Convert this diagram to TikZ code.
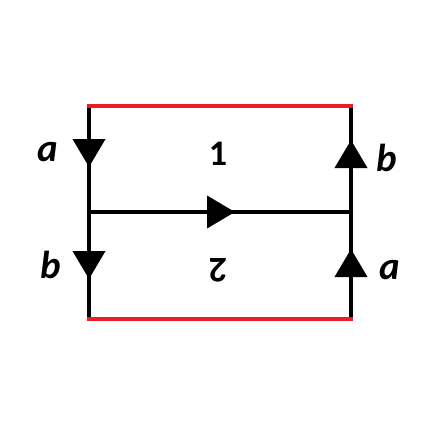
\documentclass[tikz,border=0pt]{standalone}
\usepackage{fontspec}
\setmainfont{Carlito}
\usetikzlibrary{arrows.meta,decorations.markings}
\definecolor{edgered}{HTML}{ED1C24}
\tikzset{
  edge/.style={line width=4pt,draw=black},
  rededge/.style={line width=4pt,draw=edgered,line cap=rect},
  midarrow/.style={postaction={decorate,decoration={markings,
    mark=at position #1 with {\arrow{Triangle[length=28pt,width=32pt]}}}}},
  letterlabel/.style={font=\fontsize{39}{39}\selectfont\bfseries\itshape,inner sep=0pt},
  facelabel/.style={font=\fontsize{36}{36}\selectfont\bfseries,inner sep=0pt}
}
\begin{document}
\begin{tikzpicture}[x=1pt,y=-1pt]
  \useasboundingbox (0,0) rectangle (426,426);
  % corners of the square
  \coordinate (tl) at (89,106);
  \coordinate (tr) at (351,106);
  \coordinate (ml) at (89,212);
  \coordinate (mr) at (351,212);
  \coordinate (bl) at (89,319);
  \coordinate (br) at (351,319);
  % glued edges
  \draw[edge,midarrow=61pt] (tl) -- (ml);
  \draw[edge,midarrow=67pt] (ml) -- (bl);
  \draw[edge,midarrow=72pt] (mr) -- (tr);
  \draw[edge,midarrow=70pt] (br) -- (mr);
  \draw[edge,midarrow=146pt] (ml) -- (mr);
  \draw[rededge] (tl) -- (tr);
  \draw[rededge] (bl) -- (br);
  % labels
  \node[letterlabel] (la1) at (48,152) {a};
  \node[letterlabel] (lb1) at (51,265) {b};
  \node[letterlabel] (rb1) at (387,158) {b};
  \node[letterlabel] (ra1) at (390,270) {a};
  \node[facelabel] (f1) at (218,154) {1};
  \node[facelabel,rotate=180] (f2) at (218,270) {2};
\end{tikzpicture}
\end{document}
